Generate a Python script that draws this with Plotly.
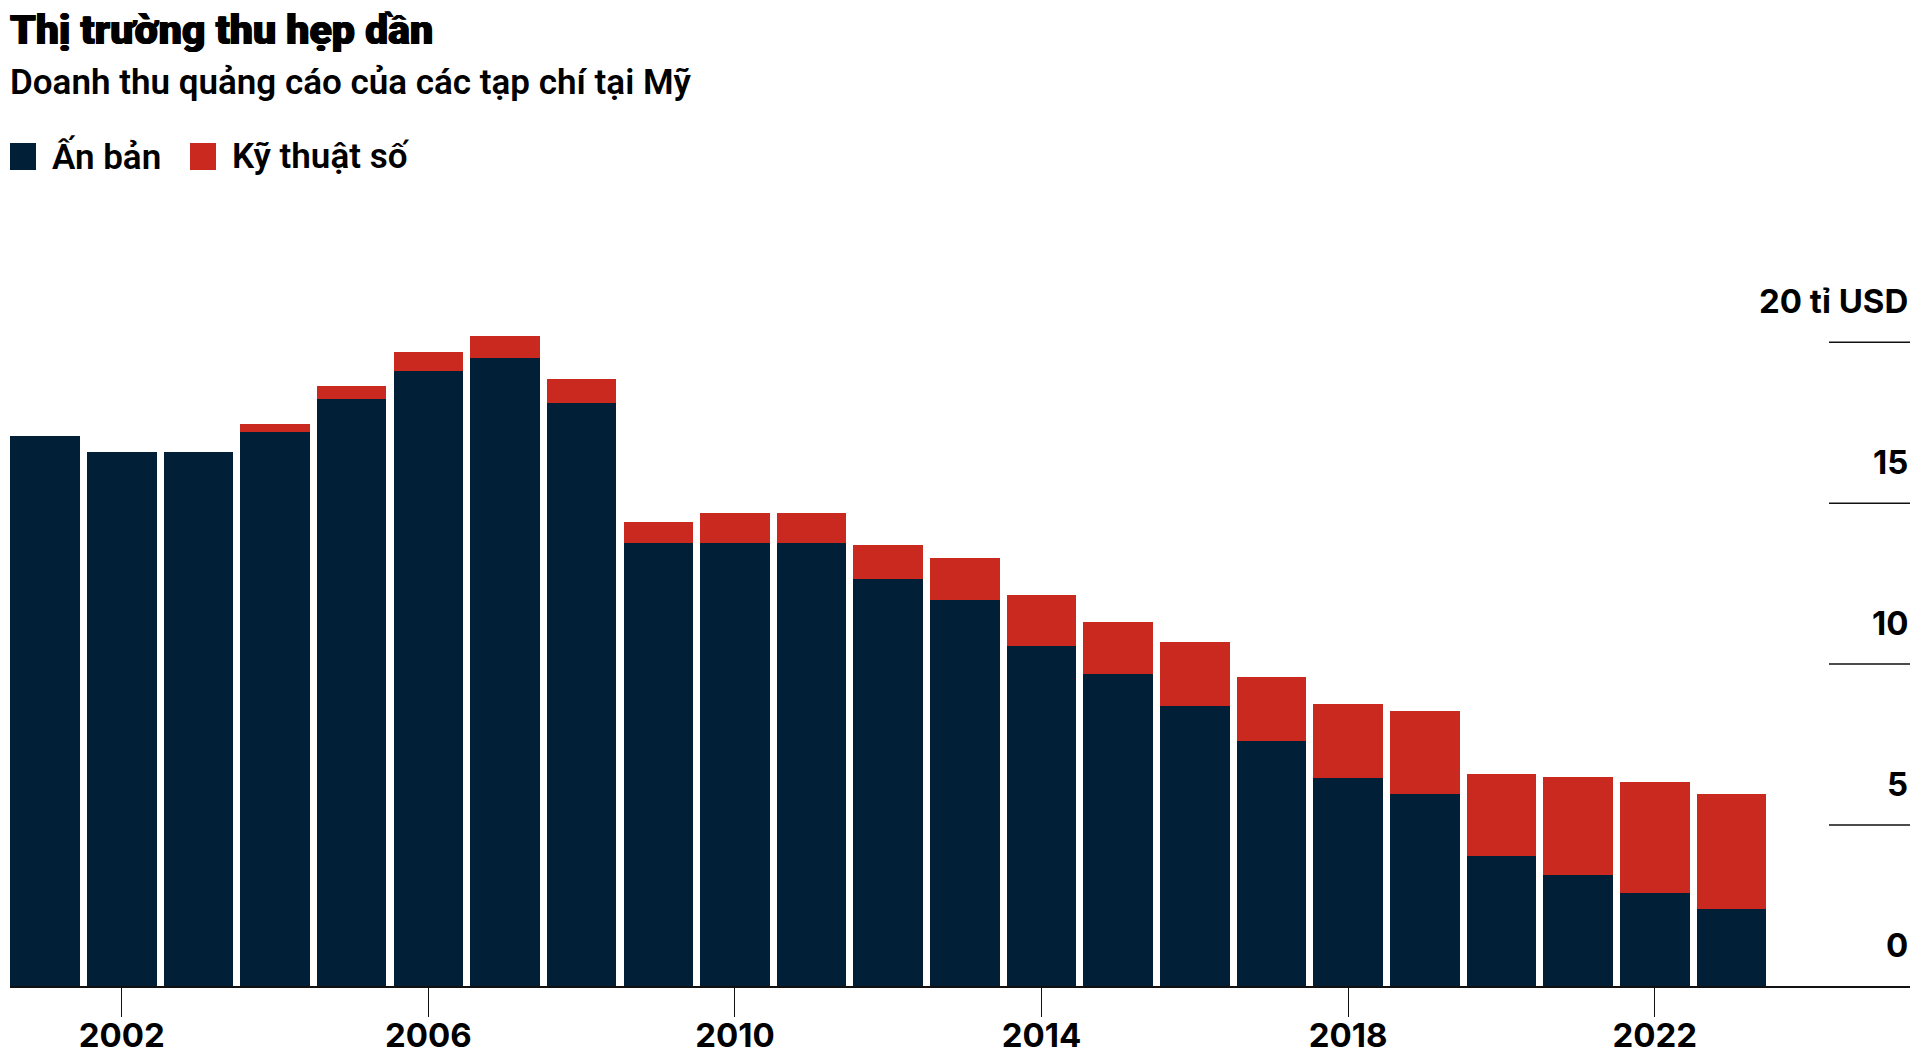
import plotly.graph_objects as go

# ---- data ----
years = list(range(2001, 2024))
print_rev = [17.1, 16.6, 16.6, 17.2, 18.25, 19.1, 19.5, 18.1, 13.75, 13.75, 13.75, 12.65,
             12.0, 10.55, 9.7, 8.7, 7.6, 6.45, 5.95, 4.05, 3.45, 2.9, 2.4]
digital_rev = [0.0, 0.0, 0.0, 0.25, 0.4, 0.6, 0.7, 0.75, 0.65, 0.95, 0.95, 1.05,
               1.3, 1.6, 1.6, 2.0, 2.0, 2.3, 2.6, 2.55, 3.05, 3.45, 3.55]
series_names = ["Ấn bản", "Kỹ thuật số"]
x_tickvals = [2002, 2006, 2010, 2014, 2018, 2022]
x_ticktext = ["2002", "2006", "2010", "2014", "2018", "2022"]
y_tickvals = [0, 5, 10, 15, 20]
y_ticktext = ["0", "5", "10", "15", "20 tỉ USD"]
title_text = "Thị trường thu hẹp dần"
subtitle_text = "Doanh thu quảng cáo của các tạp chí tại Mỹ"

NAVY = "#021F38"
RED = "#C9291E"

W, H = 1920, 1056
ML, MR, MT, MB = 10, 10, 310, 70
PLOT_W = W - ML - MR
PLOT_H = H - MT - MB
BASE_Y = H - MB


def px(X):
    return (X - ML) / PLOT_W


def py(Y):
    return (BASE_Y - Y) / PLOT_H


fig = go.Figure()
fig.add_trace(go.Bar(x=years, y=print_rev, name=series_names[0],
                     marker=dict(color=NAVY, line=dict(width=0)), showlegend=False))
fig.add_trace(go.Bar(x=years, y=digital_rev, name=series_names[1],
                     marker=dict(color=RED, line=dict(width=0)), showlegend=False))

shapes = []
annotations = []
for v, t in zip(y_tickvals, y_ticktext):
    if v != 0:
        shapes.append(dict(type="line", xref="paper", yref="y", x0=px(1829), x1=1.0,
                           y0=v, y1=v, line=dict(color="#111111", width=1.5), layer="above"))
    annotations.append(dict(xref="paper", yref="y", x=1.0, y=v, text=t, showarrow=False,
                            xanchor="right", yanchor="middle", yshift=41,
                            font=dict(family="Inter", size=33, color="#000000", weight=700)))

# title & subtitle
annotations.append(dict(xref="paper", yref="paper", x=px(8), y=py(30), text=title_text,
                        showarrow=False, xanchor="left", yanchor="middle",
                        font=dict(family="Roboto", size=41, color="#000000", weight=900,
                                  shadow="0.7px 0 0 #000, -0.7px 0 0 #000")))
annotations.append(dict(xref="paper", yref="paper", x=px(8), y=py(82), text=subtitle_text,
                        showarrow=False, xanchor="left", yanchor="middle",
                        font=dict(family="Roboto", size=35, color="#000000", weight=600)))

# legend (custom)
leg_colors = [NAVY, RED]
leg_sq_x = [10, 190]
for name, col, sx in zip(series_names, leg_colors, leg_sq_x):
    shapes.append(dict(type="rect", xref="paper", yref="paper",
                       x0=px(sx), x1=px(sx + 26), y0=py(170), y1=py(143),
                       fillcolor=col, line=dict(width=0)))
    annotations.append(dict(xref="paper", yref="paper", x=px(sx + 40), y=py(156), text=name,
                            showarrow=False, xanchor="left", yanchor="middle",
                            font=dict(family="Roboto", size=35, color="#000000", weight=600)))

fig.update_layout(
    width=W, height=H,
    margin=dict(l=ML, r=MR, t=MT, b=MB, pad=0, autoexpand=False),
    paper_bgcolor="white", plot_bgcolor="white",
    barmode="stack", bargap=0.093,
    shapes=shapes, annotations=annotations,
    xaxis=dict(range=[2000.542, 2025.33], tickmode="array", tickvals=x_tickvals,
               ticktext=x_ticktext, ticks="outside", ticklen=29, tickwidth=1,
               tickcolor="#111111", showgrid=False, zeroline=False, automargin=False,
               ticklabelstandoff=-10,
               showline=True, linecolor="#111111", linewidth=2,
               tickfont=dict(family="Inter", size=33, color="#000000", weight=700)),
    yaxis=dict(range=[0, 21], visible=False, showgrid=False, zeroline=False, automargin=False),
)

fig.write_html("out.html", config={"displayModeBar": False})
